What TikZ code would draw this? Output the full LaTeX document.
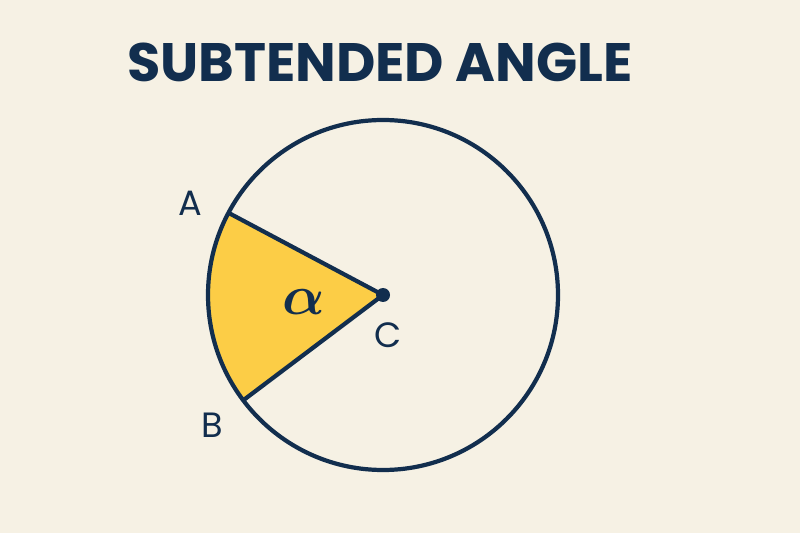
\documentclass[tikz,border=0pt]{standalone}
\usepackage{fontspec}
\setmainfont{Poppins}
\usepackage{amsmath}
\usepackage{bm}
\usetikzlibrary{positioning}
\definecolor{navyline}{RGB}{18,46,78}
\definecolor{creambg}{RGB}{246,241,228}
\definecolor{sectoryellow}{RGB}{252,205,70}

\begin{document}
\begin{tikzpicture}[
        x=0.025cm, y=0.025cm,
        rim/.style={draw=navyline, line width=3pt},
        label/.style={text=navyline, font=\fontsize{25}{28}\selectfont, inner sep=0pt},
        title/.style={text=navyline, font=\fontsize{38.5}{42}\selectfont\bfseries, inner sep=0pt}
    ]
        % Background
        \fill[creambg] (0,0) rectangle (800,533);
        \useasboundingbox (0,0) rectangle (800,533);

        % Title
        \node[title] (head) at (380,471) {SUBTENDED ANGLE};

        % Centre and end points
        \coordinate (C) at (383,238);
        \path (C) ++(152:175) coordinate (A);
        \path (C) ++(217:175) coordinate (B);

        % Sector
        \fill[sectoryellow] (C) -- (A) arc[start angle=152, end angle=217, radius=175] -- cycle;

        % Circle and radii
        \draw[rim] (C) circle[radius=175];
        \draw[rim, line join=round] (A) -- (C) -- (B);
        \fill[navyline] (C) circle[radius=7];

        % Labels
        \node[label] (labA) at (190,330) {A};
        \node[label] (labB) at (212,108) {B};
        \node[label] (labC) at (388,198) {C};
        \node[text=navyline, font=\fontsize{24}{28}\selectfont, inner sep=0pt] (alpha) at (304,231) {\scalebox{1.6}{$\bm{\alpha}$}};

    \end{tikzpicture}
\end{document}
